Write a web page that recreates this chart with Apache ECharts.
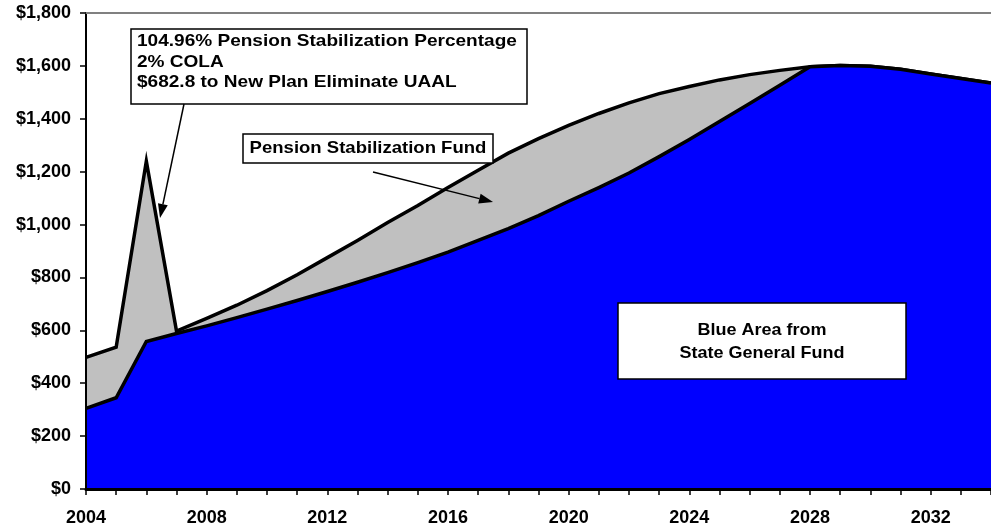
<!DOCTYPE html>
<html>
<head>
<meta charset="utf-8">
<script src="https://cdn.jsdelivr.net/npm/echarts@6/dist/echarts.min.js"></script>
<style>
html,body{margin:0;padding:0;background:#fff;}
#chart{width:991px;height:529px;}
</style>
</head>
<body>
<div id="chart"></div>
<script>
// ---- Data ----
const years = ['2004','2005','2006','2007','2008','2009','2010','2011','2012','2013',
  '2014','2015','2016','2017','2018','2019','2020','2021','2022','2023',
  '2024','2025','2026','2027','2028','2029','2030','2031','2032','2033','2034'];

// Blue area: State General Fund contribution
const stateGeneralFund = [305, 345, 558, 588, 617, 648, 680, 713, 747, 782,
  818, 856, 896, 940, 985, 1034, 1088, 1140, 1195, 1257,
  1322, 1390, 1458, 1527, 1597, 1601, 1599, 1587, 1569, 1552, 1535];

// Top of grey area: total incl. Pension Stabilization Fund
const totalWithStabilization = [498, 536, 1240, 597, 645, 695, 750, 810, 875, 940,
  1008, 1072, 1140, 1205, 1270, 1325, 1375, 1420, 1460, 1495,
  1522, 1547, 1567, 1583, 1597, 1601, 1599, 1587, 1569, 1552, 1535];

const yTicks = { min: 0, max: 1800, interval: 200 };

const box1Lines = ['104.96% Pension Stabilization Percentage', '2% COLA', '$682.8 to New Plan Eliminate UAAL'];
const box2Text = 'Pension Stabilization Fund';
const box3Lines = ['Blue Area from', 'State General Fund'];

// ---- Chart ----
const FONT = '"Liberation Sans", Arial, sans-serif';
const chart = echarts.init(document.getElementById('chart'), null, {renderer: 'canvas'});

function arrow(x1, y1, x2, y2) {
  const ang = Math.atan2(y2 - y1, x2 - x1);
  const L = 14, W = 5;
  const bx = x2 - L * Math.cos(ang), by = y2 - L * Math.sin(ang);
  const px = -Math.sin(ang) * W, py = Math.cos(ang) * W;
  return [
    {type: 'line', z: 100, shape: {x1: x1, y1: y1, x2: bx, y2: by}, style: {stroke: '#000', lineWidth: 1.5}},
    {type: 'polygon', z: 100, shape: {points: [[x2, y2], [bx + px, by + py], [bx - px, by - py]]}, style: {fill: '#000'}}
  ];
}

const graphics = [
  {type: 'rect', z: 100, shape: {x: 131, y: 29, width: 396, height: 75}, style: {fill: '#fff', stroke: '#000', lineWidth: 1.5}},
  {type: 'rect', z: 100, shape: {x: 243, y: 134, width: 250, height: 29}, style: {fill: '#fff', stroke: '#000', lineWidth: 1.5}},
  {type: 'rect', z: 100, shape: {x: 618, y: 303, width: 288, height: 76}, style: {fill: '#fff', stroke: '#000', lineWidth: 1.5}},
];
const b1y = [41.5, 62.3, 82.7];
box1Lines.forEach((t, i) => graphics.push({
  type: 'text', z: 101, x: 137, y: b1y[i], scaleX: 1.12,
  style: {text: t, font: 'bold 17px ' + FONT, fill: '#000', align: 'left', verticalAlign: 'middle'}
}));
graphics.push({
  type: 'text', z: 101, x: 368, y: 148.8, scaleX: 1.09,
  style: {text: box2Text, font: 'bold 17px ' + FONT, fill: '#000', align: 'center', verticalAlign: 'middle'}
});
const b3y = [330, 353.5];
box3Lines.forEach((t, i) => graphics.push({
  type: 'text', z: 101, x: 762, y: b3y[i], scaleX: 1.06,
  style: {text: t, font: 'bold 17px ' + FONT, fill: '#000', align: 'center', verticalAlign: 'middle'}
}));
graphics.push(...arrow(184, 104, 160, 218));
graphics.push(...arrow(373, 172, 493, 202));

const option = {
  animation: false,
  backgroundColor: '#fff',
  grid: {left: 86, right: 0, top: 13, bottom: 40, containLabel: false},
  xAxis: [
    {
      type: 'category', data: years, boundaryGap: false, z: 10,
      axisLine: {show: true, lineStyle: {color: '#000', width: 3}},
      axisTick: {show: true, interval: 0, length: 6, inside: false, lineStyle: {color: '#000', width: 1.5}},
      axisLabel: {interval: 3, color: '#000', fontWeight: 'bold', fontSize: 18, fontFamily: FONT, margin: 20},
      splitLine: {show: false}
    },
    {
      type: 'category', data: years, boundaryGap: false, position: 'top', z: 10,
      axisLine: {show: true, lineStyle: {color: '#808080', width: 2}},
      axisTick: {show: false}, axisLabel: {show: false}, splitLine: {show: false}
    }
  ],
  yAxis: {
    type: 'value', min: yTicks.min, max: yTicks.max, interval: yTicks.interval, z: 10,
    axisLine: {show: true, lineStyle: {color: '#000', width: 2}},
    axisTick: {show: true, length: 6, inside: false, lineStyle: {color: '#000', width: 1.5}},
    axisLabel: {
      color: '#000', fontWeight: 'bold', fontSize: 18, fontFamily: FONT, margin: 15,
      formatter: v => '$' + v.toLocaleString('en-US')
    },
    splitLine: {show: false}
  },
  series: [
    {
      name: 'Pension Stabilization Fund', type: 'line', data: totalWithStabilization,
      showSymbol: false, symbol: 'none', smooth: false,
      lineStyle: {color: '#000', width: 3.5, join: 'miter'},
      areaStyle: {color: '#C0C0C0', opacity: 1},
      z: 2
    },
    {
      name: 'State General Fund', type: 'line', data: stateGeneralFund,
      showSymbol: false, symbol: 'none', smooth: false,
      lineStyle: {color: '#000', width: 3.5, join: 'miter'},
      areaStyle: {color: '#0000FF', opacity: 1},
      z: 3
    }
  ],
  graphic: graphics
};
chart.setOption(option);
</script>
</body>
</html>
